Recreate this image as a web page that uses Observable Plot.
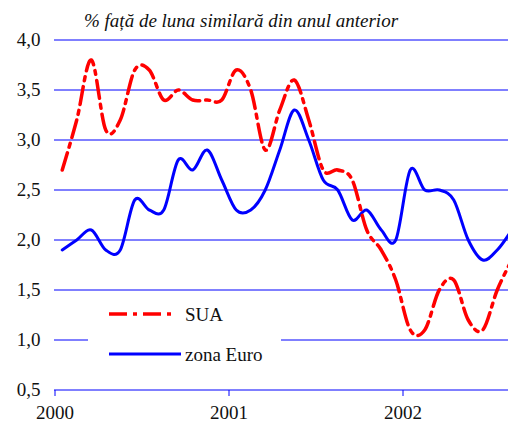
<!DOCTYPE html>
<html>
<head>
<meta charset="utf-8">
<script src="https://cdn.jsdelivr.net/npm/d3@7"></script>
<script src="https://cdn.jsdelivr.net/npm/@observablehq/plot@0.6"></script>
<style>
  html, body { margin: 0; padding: 0; background: #fff; }
  body, div, svg, text, tspan { font-family: 'Liberation Serif', serif !important; }
</style>
</head>
<body>
<div id="wrap" style="position:relative;width:508px;height:424px">
  <div id="chart"></div>
  <div id="title" style="position:absolute;left:84px;top:11px;font-family:'Liberation Serif', serif;font-style:italic;font-size:19px;line-height:19px;color:#111;white-space:nowrap"></div>
  <svg id="legend" width="193" height="72" style="position:absolute;left:88px;top:296px"></svg>
</div>
<script>
const titleText = "% față de luna similară din anul anterior";
const seriesNames = ["SUA", "zona Euro"];
const startYear = 2000;
const sua = [2.7, 3.2, 3.8, 3.1, 3.2, 3.7, 3.7, 3.4, 3.5, 3.4, 3.4, 3.4,
             3.7, 3.5, 2.9, 3.3, 3.6, 3.2, 2.7, 2.7, 2.6, 2.1, 1.9, 1.6,
             1.1, 1.1, 1.5, 1.6, 1.2, 1.1, 1.5, 1.8];
const euro = [1.9, 2.0, 2.1, 1.9, 1.9, 2.4, 2.3, 2.3, 2.8, 2.7, 2.9, 2.6,
              2.3, 2.3, 2.5, 2.9, 3.3, 3.0, 2.6, 2.5, 2.2, 2.3, 2.1, 2.0,
              2.7, 2.5, 2.5, 2.4, 2.0, 1.8, 1.9, 2.1];
const yTicks = [0.5, 1.0, 1.5, 2.0, 2.5, 3.0, 3.5, 4.0];
const xTicks = [2000, 2001, 2002];

const toRows = (vals, name) => vals.map((v, i) => ({t: startYear + (i + 0.5) / 12, v, s: name}));
const rowsSUA = toRows(sua, seriesNames[0]);
const rowsEuro = toRows(euro, seriesNames[1]);

const RED = "#ff0000", BLUE = "#0000ff";
const dash = "18,6,4,6";
const smooth = d3.curveCatmullRom.alpha(0);
const FONT = "'Liberation Serif', serif";

const chart = Plot.plot({
  width: 508,
  height: 424,
  marginLeft: 54,
  marginRight: 0,
  marginTop: 39,
  marginBottom: 34,
  style: {fontFamily: FONT, fontSize: "19px", color: "#111", background: "#fff"},
  x: {domain: [2000, 2000 + 454 / 174], range: [54.5, 508.5]},
  y: {domain: [0.5, 4.0], range: [389.5, 39.5]},
  marks: [
    Plot.ruleY(yTicks, {stroke: BLUE, strokeWidth: 1}),
    Plot.axisY({ticks: yTicks, tickSize: 0, tickPadding: 14, tickFormat: d => d.toFixed(1).replace(".", ","), label: null, fontFamily: FONT}),
    Plot.axisX({ticks: xTicks, tickSize: 6, tickPadding: 9, stroke: BLUE, tickFormat: d => String(d), label: null, fontFamily: FONT}),
    Plot.line(rowsEuro, {x: "t", y: "v", stroke: BLUE, strokeWidth: 3, curve: smooth, clip: true}),
    Plot.line(rowsSUA, {x: "t", y: "v", stroke: RED, strokeWidth: 3.5, strokeDasharray: dash, curve: smooth, clip: true})
  ]
});
document.getElementById("chart").appendChild(chart);
document.getElementById("title").textContent = titleText;

// legend
const lg = d3.select("#legend");
lg.append("rect").attr("width", 193).attr("height", 72).attr("fill", "#fff");
const items = [
  {name: seriesNames[0], color: RED, dash: dash, w: 3.5, y: 18, x2: 89},
  {name: seriesNames[1], color: BLUE, dash: null, w: 3, y: 58, x2: 93}
];
items.forEach(it => {
  lg.append("line").attr("x1", 21).attr("x2", it.x2).attr("y1", it.y).attr("y2", it.y)
    .attr("stroke", it.color).attr("stroke-width", it.w).attr("stroke-dasharray", it.dash);
  lg.append("text").attr("x", 97).attr("y", it.y + 7)
    .attr("font-family", FONT).attr("font-size", 19).attr("fill", "#111").text(it.name);
});
</script>
</body>
</html>
